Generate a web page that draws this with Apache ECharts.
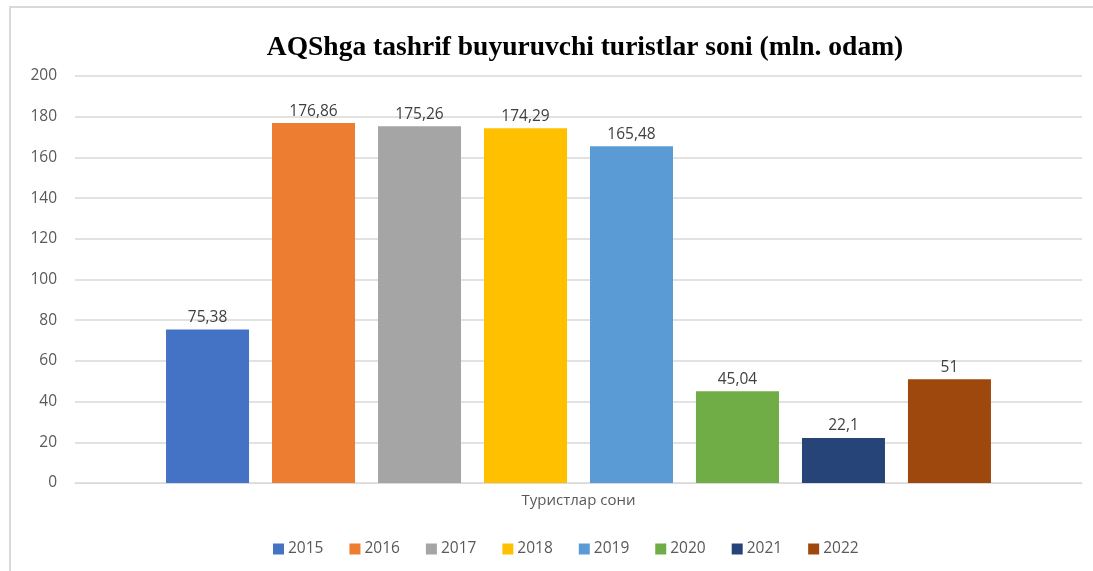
<!DOCTYPE html>
<html><head><meta charset="utf-8">
<script src="https://cdn.jsdelivr.net/npm/echarts@6/dist/echarts.min.js"></script>
<style>html,body{margin:0;padding:0;background:#fff}#c{width:1093px;height:571px}</style>
</head><body><div id="c"></div>
<script>
const categories = ['Туристлар сони'];
const years = ['2015','2016','2017','2018','2019','2020','2021','2022'];
const values = [75.38, 176.86, 175.26, 174.29, 165.48, 45.04, 22.1, 51];
const colors = ['#4472C4','#ED7D31','#A5A5A5','#FFC000','#5B9BD5','#70AD47','#264478','#9E480E'];
const yTicks = [0, 200, 20];

const chart = echarts.init(document.getElementById('c'));
const font = '"Open Sans", "Noto Sans", sans-serif';
chart.setOption({
  animation: false,
  color: colors,
  title: {
    text: 'AQShga tashrif buyuruvchi turistlar soni (mln. odam)',
    left: 580, top: 29, textAlign: 'center',
    textStyle: {fontFamily: '"Liberation Serif", "Times New Roman", serif', fontWeight: 'bold', fontSize: 27.5, color: '#000'}
  },
  legend: {
    bottom: 9, left: 268, itemWidth: 11, itemHeight: 11, itemGap: 26,
    icon: 'rect',
    textStyle: {fontFamily: font, fontSize: 15.5, color: '#595959', padding: [0,0,0,-1]},
    data: years
  },
  grid: {left: 75, right: 11, top: 76, bottom: 88, containLabel: false},
  xAxis: {
    type: 'category', data: categories,
    axisLine: {lineStyle: {color: '#d9d9d9', width: 1}},
    axisTick: {show: false},
    axisLabel: {fontFamily: font, fontSize: 15, color: '#595959', margin: 10}
  },
  yAxis: {
    type: 'value', min: yTicks[0], max: yTicks[1], interval: yTicks[2],
    axisLine: {show: false}, axisTick: {show: false},
    splitLine: {lineStyle: {color: '#d9d9d9', width: 1.5}},
    axisLabel: {fontFamily: font, fontSize: 15.5, color: '#595959', margin: 18}
  },
  graphic: [{
    type: 'polyline', silent: true,
    shape: {points: [[10, 571], [10, 7], [1093, 7]]},
    style: {stroke: '#d9d9d9', lineWidth: 2, fill: null}
  }],
  series: years.map((y, i) => ({
    name: y, type: 'bar', data: [values[i]],
    barWidth: 83, barGap: '27.7%',
    itemStyle: {color: colors[i]},
    label: {
      show: true, position: 'top', distance: 4,
      fontFamily: font, fontSize: 15.5, color: '#404040',
      formatter: p => String(p.value).replace('.', ',')
    }
  }))
});
</script></body></html>
